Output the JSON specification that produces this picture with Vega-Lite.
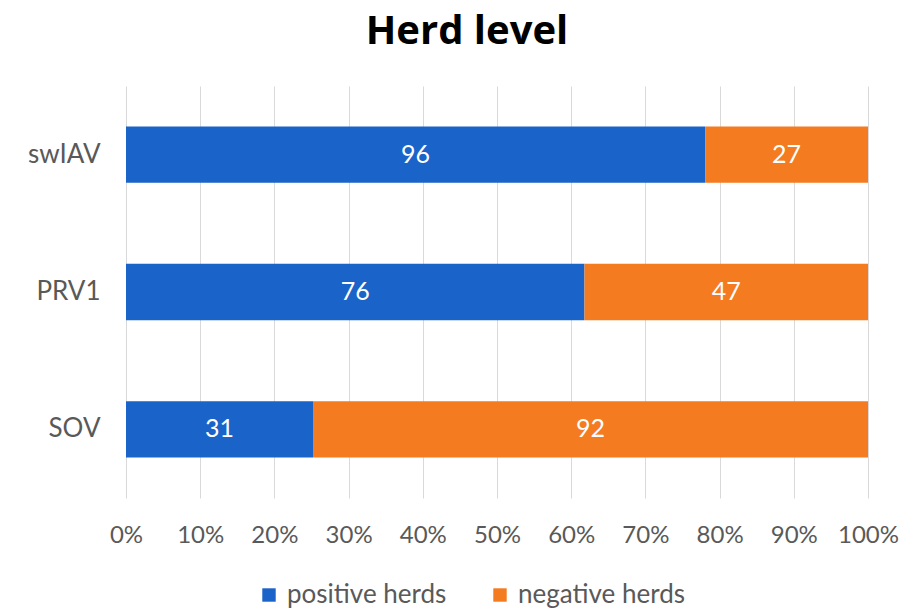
{
  "$schema": "https://vega.github.io/schema/vega-lite/v6.json",
  "width": 742,
  "height": 412,
  "autosize": {"type": "none"},
  "padding": {"left": 126, "top": 86, "right": 38, "bottom": 110},
  "background": "white",
  "title": {
    "text": "Herd level",
    "font": "Open Sans",
    "fontSize": 40,
    "fontWeight": "bold",
    "color": "#000000",
    "anchor": "middle",
    "dx": -30,
    "offset": 34
  },
  "data": {
    "values": [
      {"virus": "swIAV", "status": "positive herds", "herds": 96, "ord": 1},
      {"virus": "swIAV", "status": "negative herds", "herds": 27, "ord": 2},
      {"virus": "PRV1", "status": "positive herds", "herds": 76, "ord": 1},
      {"virus": "PRV1", "status": "negative herds", "herds": 47, "ord": 2},
      {"virus": "SOV", "status": "positive herds", "herds": 31, "ord": 1},
      {"virus": "SOV", "status": "negative herds", "herds": 92, "ord": 2}
    ]
  },
  "transform": [
    {"stack": "herds", "groupby": ["virus"], "sort": [{"field": "ord"}], "offset": "normalize", "as": ["x0", "x1"]},
    {"calculate": "(datum.x0 + datum.x1) / 2", "as": "xm"}
  ],
  "encoding": {
    "y": {
      "field": "virus",
      "type": "nominal",
      "sort": ["swIAV", "PRV1", "SOV"],
      "scale": {"paddingInner": 0.59, "paddingOuter": 0.295},
      "axis": {
        "title": null,
        "domain": false,
        "ticks": false,
        "labelFont": "Lato",
        "labelFontSize": 26,
        "labelColor": "#595959",
        "labelPadding": 26
      }
    }
  },
  "layer": [
    {
      "mark": {"type": "bar"},
      "encoding": {
        "x": {
          "field": "x0",
          "type": "quantitative",
          "scale": {"domain": [0, 1], "nice": false},
          "axis": {
            "title": null,
            "format": ".0%",
            "values": [0, 0.1, 0.2, 0.3, 0.4, 0.5, 0.6, 0.7, 0.8, 0.9, 1],
            "labelOverlap": false,
            "labelBound": false,
            "labelFlush": false,
            "domain": false,
            "ticks": false,
            "grid": true,
            "gridColor": "#d9d9d9",
            "gridWidth": 1,
            "labelFont": "Lato",
            "labelFontSize": 24,
            "labelColor": "#595959",
            "labelPadding": 25
          }
        },
        "x2": {"field": "x1"},
        "color": {
          "field": "status",
          "type": "nominal",
          "sort": ["positive herds", "negative herds"],
          "scale": {"domain": ["positive herds", "negative herds"], "range": ["#1a63c9", "#f47b20"]},
          "legend": {
            "title": null,
            "orient": "none",
            "legendX": 130,
            "legendY": 496,
            "direction": "horizontal",
            "symbolType": "square",
            "symbolSize": 180,
            "symbolStrokeWidth": 0,
            "labelFont": "Lato",
            "labelFontSize": 26,
            "labelColor": "#595959",
            "labelLimit": 400,
            "labelOffset": 5,
            "columnPadding": 40
          }
        }
      }
    },
    {
      "mark": {"type": "text", "color": "white", "font": "Lato", "fontSize": 25, "baseline": "middle", "align": "center"},
      "encoding": {
        "x": {"field": "xm", "type": "quantitative"},
        "text": {"field": "herds", "type": "quantitative"}
      }
    }
  ],
  "config": {
    "view": {"stroke": null}
  }
}
